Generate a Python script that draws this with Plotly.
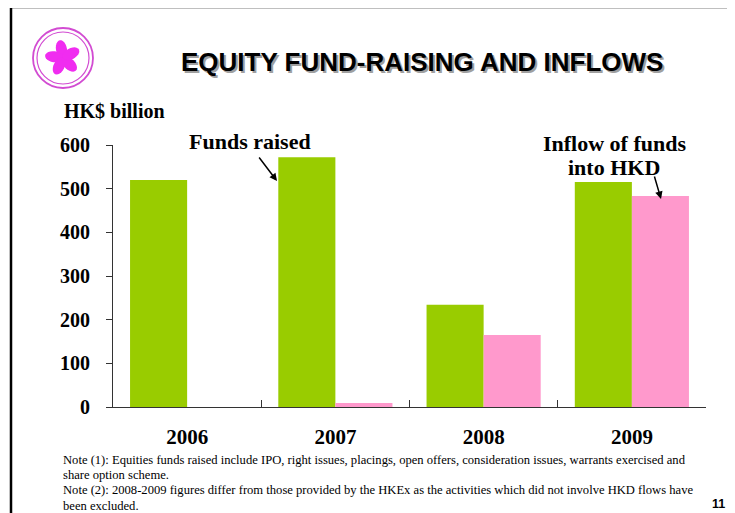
import numpy as np
import plotly.graph_objects as go

years = ["2006", "2007", "2008", "2009"]
funds_raised = [520, 572, 234, 515]
inflow_hkd = [0, 9, 165, 483]
y_ticks = [0, 100, 200, 300, 400, 500, 600]

W, H = 735, 513
OFF = 8  # page body offset of the plot div
L, R, T, B = 113, 706, 145, 407  # plot area in screen pixels


def px(x):
    return (x - L) / (R - L)


def py(y):
    return (B - y) / (B - T)


fig = go.Figure()
fig.add_trace(go.Bar(x=years, y=funds_raised, name="Funds raised",
                     marker=dict(color="#99CC00", line=dict(width=0))))
fig.add_trace(go.Bar(x=years, y=inflow_hkd, name="Inflow of funds into HKD",
                     marker=dict(color="#FF99CC", line=dict(width=0))))

serif = "Liberation Serif, Times New Roman, serif"
sans = "Liberation Sans, Arial, sans-serif"

fig.update_layout(
    width=W, height=H,
    margin=dict(l=L - OFF, r=W - (R - OFF), t=T - OFF, b=H - (B - OFF), pad=0, autoexpand=False),
    paper_bgcolor="white", plot_bgcolor="white",
    barmode="group", bargap=0.23, bargroupgap=0,
    showlegend=False,
    xaxis=dict(showline=True, linecolor="#333333", linewidth=1.2, automargin=False,
               ticks="inside", tickson="boundaries", ticklen=7, tickcolor="#333333",
               tickfont=dict(family=serif, size=21, color="black", weight="bold"),
               ticklabelstandoff=11, showgrid=False, zeroline=False),
    yaxis=dict(range=[0, 600], tickvals=y_ticks, showline=True, linecolor="#333333",
               linewidth=1.2, ticks="outside", ticklen=6, tickcolor="#333333", automargin=False,
               tickfont=dict(family=serif, size=20, color="black", weight="bold"),
               ticklabelstandoff=12, showgrid=False, zeroline=False),
)

shapes = []
# page frame
shapes.append(dict(type="rect", xref="paper", yref="paper",
                   x0=px(11), x1=px(760), y0=py(540), y1=py(7),
                   line=dict(color="black", width=2.5), fillcolor="rgba(0,0,0,0)", layer="above"))
# logo rings
cx, cy = 63, 58
for r, w in [(30, 1.8), (26, 1.2)]:
    shapes.append(dict(type="circle", xref="paper", yref="paper",
                       x0=px(cx - r), x1=px(cx + r), y0=py(cy + r), y1=py(cy - r),
                       line=dict(color="#D24BD2", width=w)))
# logo petals (decorative)
petal_angles = [100, 172, 244, 316, 28]
for ang in petal_angles:
    a = np.deg2rad(ang)
    pts = []
    for t in np.linspace(0, 2 * np.pi, 24, endpoint=False):
        u = 9 + 9 * np.cos(t)
        v = 5.5 * np.sin(t)
        xx = cx + u * np.cos(a) - v * np.sin(a)
        yy = cy - (u * np.sin(a) + v * np.cos(a))
        pts.append((px(xx), py(yy)))
    path = "M " + " L ".join(f"{p[0]:.5f},{p[1]:.5f}" for p in pts) + " Z"
    shapes.append(dict(type="path", xref="paper", yref="paper", path=path,
                       fillcolor="#F02CF0", line=dict(width=0)))
fig.update_layout(shapes=shapes)


def text_ann(text, x, y, size, family, xanchor="center", color="black", bold=True, align="center"):
    return dict(text=text, x=px(x), y=py(y), xref="paper", yref="paper",
                xanchor=xanchor, yanchor="middle", showarrow=False, align=align,
                font=dict(family=family, size=size, color=color,
                          weight="bold" if bold else "normal"))


ann = []
title = "EQUITY FUND-RAISING AND INFLOWS"
ann.append(text_ann(title, 424, 64, 26, sans, color="#a0a0a0"))
ann.append(text_ann(title, 422, 62, 26, sans))
ann.append(text_ann("HK$ billion", 62, 111, 20, serif, xanchor="left"))
ann.append(text_ann("Funds raised", 250, 142, 22, serif))
ann.append(dict(x=px(277), y=py(181), ax=-19, ay=-25, xref="paper", yref="paper",
                showarrow=True, arrowhead=2, arrowsize=1,
                arrowwidth=1.5, arrowcolor="black", text=""))
ann.append(text_ann("Inflow of funds", 614, 143, 22, serif))
ann.append(text_ann("into HKD", 614, 167, 22, serif))
ann.append(dict(x=px(661), y=py(199), ax=-7, ay=-24, xref="paper", yref="paper",
                showarrow=True, arrowhead=2, arrowsize=1,
                arrowwidth=1.5, arrowcolor="black", text=""))
notes = [
    "Note (1): Equities funds raised include IPO, right issues, placings, open offers, consideration issues, warrants exercised and",
    "share option scheme.",
    "Note (2): 2008-2009 figures differ from those provided by the HKEx as the activities which did not involve HKD flows have",
    "been excluded.",
]
for i, n in enumerate(notes):
    ann.append(text_ann(n, 61, 460 + i * 15.2, 12.6, serif, xanchor="left", bold=False, align="left"))
ann.append(text_ann("11", 718, 504, 12.5, sans))
fig.update_layout(annotations=ann)

fig.write_html("out.html")
